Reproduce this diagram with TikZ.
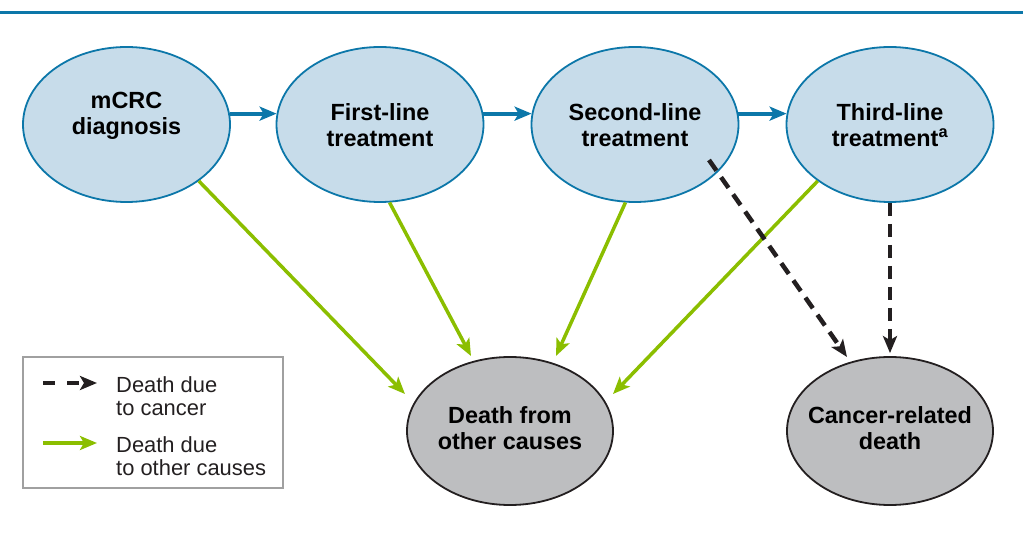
\documentclass[tikz,border=0pt]{standalone}
\usepackage{fontspec}
\setmainfont{Liberation Sans}
\usetikzlibrary{shapes.geometric, arrows.meta, calc}
\definecolor{stageblue}{RGB}{12,119,169}
\definecolor{stagefill}{RGB}{199,220,234}
\definecolor{othergreen}{RGB}{139,190,0}
\definecolor{deathfill}{RGB}{189,190,192}
\definecolor{darkline}{RGB}{35,31,32}
\definecolor{keygray}{RGB}{160,160,160}

\begin{document}
\begin{tikzpicture}[x=1bp, y=-1bp, >={Stealth[length=17bp, width=14bp, inset=4bp]},
	stage/.style={ellipse, draw=stageblue, line width=1.8bp, fill=stagefill, minimum width=207bp, minimum height=155bp, inner sep=0pt},
	outcome/.style={ellipse, draw=darkline, line width=1.8bp, fill=deathfill, minimum width=206bp, minimum height=148bp, inner sep=0pt},
	caption/.style={font=\fontsize{23.5}{26}\selectfont\bfseries, align=center, inner sep=0pt, text=black},
	keytext/.style={font=\fontsize{22}{23.5}\selectfont, align=left, inner sep=0pt, anchor=north west, text=darkline},
	nextline/.style={->, stageblue, line width=4bp},
	othercause/.style={->, othergreen, line width=3.5bp},
	cancercause/.style={->, darkline, line width=4.5bp, dash pattern=on 13bp off 8bp}]
				\useasboundingbox (0,0) rectangle (1023,536);
				\draw[stageblue, line width=3bp] (0,12.5) -- (1023,12.5);

				% Nodes

				\node [stage, label={[caption, yshift=9bp]center:mCRC\\diagnosis}] (diag) at (126.5,124.5) {};
				\node [stage, label={[caption, yshift=-1bp]center:First-line\\treatment}] (first) at (380,124.5) {};
				\node [stage, label={[caption, yshift=-1bp]center:Second-line\\treatment}] (second) at (635,124.5) {};
				\node [stage, label={[caption, yshift=-1bp]center:Third-line\\treatment\textsuperscript{a}}] (third) at (890,124.5) {};
				\node [outcome, label={[caption, yshift=3bp]center:Death from\\other causes}] (other) at (510,431) {};
				\node [outcome, label={[caption, yshift=3bp]center:Cancer-related\\death}] (cancer) at (890,431) {};

				\node [draw=keygray, line width=1.5bp, minimum width=260bp, minimum height=131bp, inner sep=0pt] (key) at (153,422.5) {};
				\node [keytext] (key1) at (116,376) {Death due\\to cancer};
				\node [keytext] (key2) at (116,436) {Death due\\to other causes};

				\coordinate (o1) at (405,394);\coordinate (o2) at (471,356);
				\coordinate (o3) at (556,356);\coordinate (o4) at (613,394);
				\coordinate (c0) at ($ (second.center) +(74,35.5) $);
				\coordinate (c1) at (847,357);
				\coordinate (k1a) at (43,383);\coordinate (k1b) at (97,383);
				\coordinate (k2a) at (43,443);\coordinate (k2b) at (97,443);

				% Arrows

				\draw[nextline] (diag.6) -- (first.174);\draw[nextline] (first.6) -- (second.174);
				\draw[nextline] (second.6) -- (third.174);
				\draw[othercause] (diag.-38) -- (o1);\draw[othercause] (first.-83) -- (o2);
				\draw[othercause] (second.-97) -- (o3);\draw[othercause] (third.-142) -- (o4);
				\draw[cancercause] (c0) -- (c1);
				\draw[cancercause, shorten >=3bp] (third.south) -- (cancer.north);
				\draw[cancercause, dash pattern=on 12bp off 12bp] (k1a) -- (k1b);
				\draw[othercause] (k2a) -- (k2b);
			\end{tikzpicture}
\end{document}
